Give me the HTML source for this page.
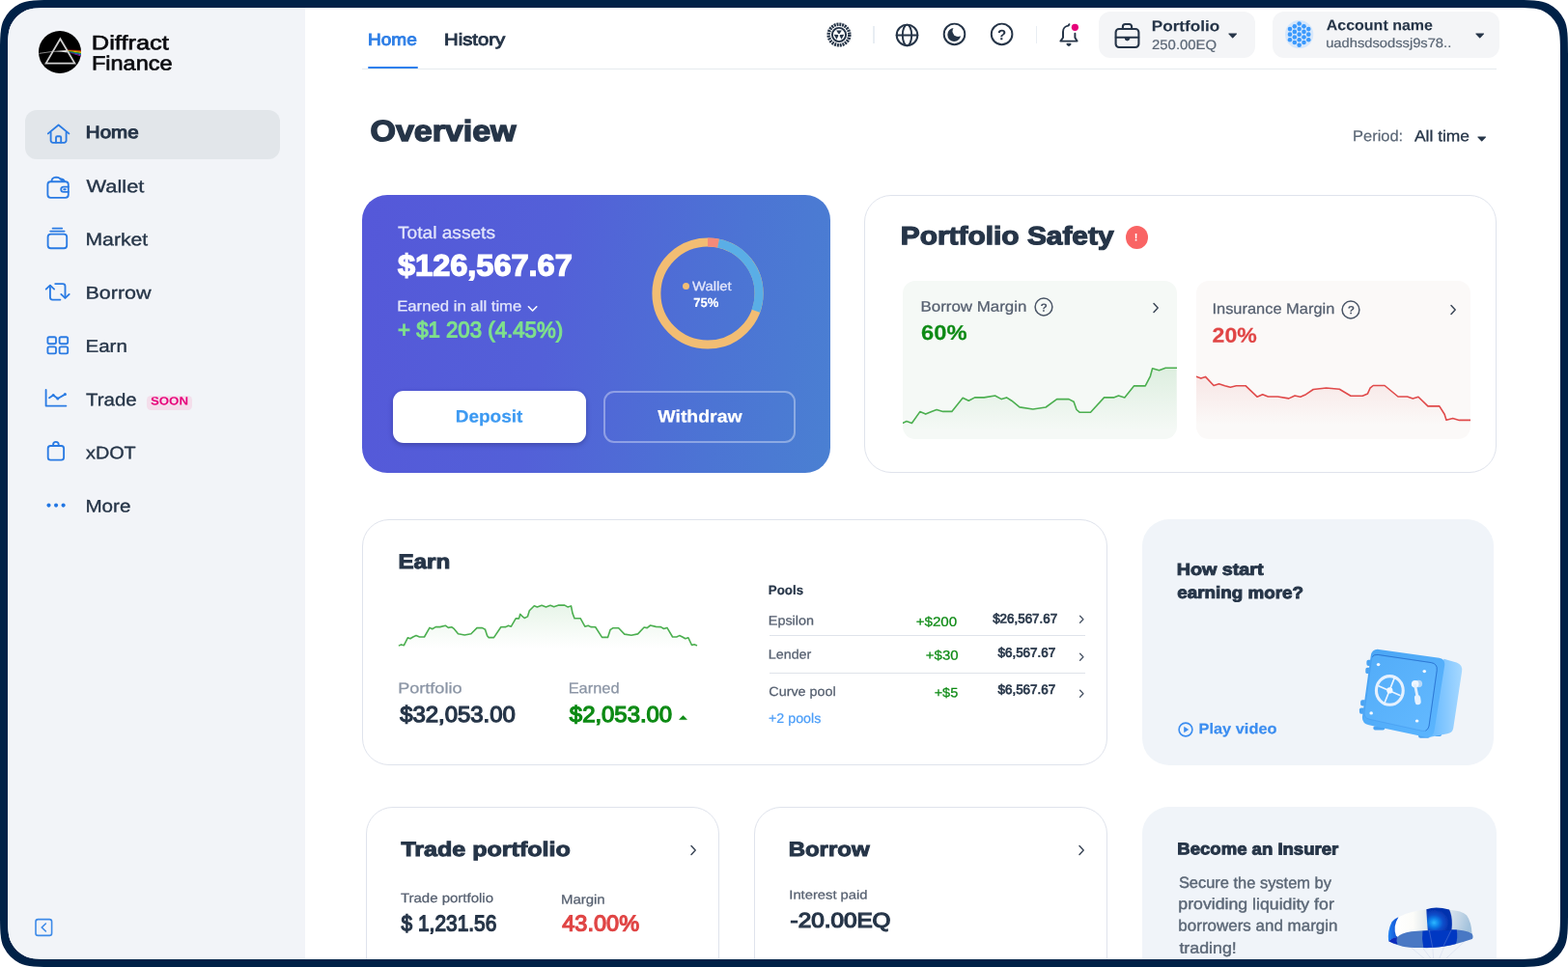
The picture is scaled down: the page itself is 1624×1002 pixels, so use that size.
<!DOCTYPE html>
<html lang="en"><head><meta charset="utf-8"><title>Diffract Finance</title>
<style>
*{box-sizing:border-box;margin:0;padding:0}
html,body{width:1624px;height:1002px;overflow:hidden;background:#fff}
body{font-family:"Liberation Sans",sans-serif;position:relative}
.frame{position:absolute;left:0;top:0;width:1624px;height:1002px;background:#002147;border-radius:34px;clip-path:path('M1564.80 0.00c20.72 0 31.08 0 39.00 4.03a37.00 37.00 0 0 1 16.17 16.17c4.03 7.91 4.03 18.28 4.03 39.00L1624.00 942.80c0 20.72 0 31.08 -4.03 39.00a37.00 37.00 0 0 1 -16.17 16.17c-7.91 4.03 -18.28 4.03 -39.00 4.03L59.20 1002.00c-20.72 0 -31.08 0 -39.00 -4.03a37.00 37.00 0 0 1 -16.17 -16.17c-4.03 -7.91 -4.03 -18.28 -4.03 -39.00L0.00 59.20c0 -20.72 0 -31.08 4.03 -39.00a37.00 37.00 0 0 1 16.17 -16.17c7.91 -4.03 18.28 -4.03 39.00 -4.03Z')}
.screen{position:absolute;left:8px;top:8px;width:1608px;height:986px;background:#fff;border-radius:28px;clip-path:path('M1556.80 0.00c17.92 0 26.88 0 33.73 3.49a32.00 32.00 0 0 1 13.98 13.98c3.49 6.85 3.49 15.81 3.49 33.73L1608.00 934.80c0 17.92 0 26.88 -3.49 33.73a32.00 32.00 0 0 1 -13.98 13.98c-6.85 3.49 -15.81 3.49 -33.73 3.49L51.20 986.00c-17.92 0 -26.88 0 -33.73 -3.49a32.00 32.00 0 0 1 -13.98 -13.98c-3.49 -6.85 -3.49 -15.81 -3.49 -33.73L0.00 51.20c0 -17.92 0 -26.88 3.49 -33.73a32.00 32.00 0 0 1 13.98 -13.98c6.85 -3.49 15.81 -3.49 33.73 -3.49Z');overflow:hidden}
.abs{position:absolute}
.page{position:absolute;left:-8px;top:-8px;width:1624px;height:1002px}
.t{position:absolute;white-space:pre;line-height:1;transform-origin:0 50%;display:block}
.card{position:absolute;border:1px solid #dfe3ec;border-radius:28px;background:#fff}
.info{position:absolute;border-radius:28px;background:#f0f4f9}
svg{position:absolute;overflow:visible}
</style></head>
<body><div class="frame"><div class="screen"><div class="page">
<div class="abs" style="left:0;top:0;width:315.5px;height:1002px;background:#f2f4f8"></div>
<svg style="left:40px;top:32px" width="44" height="44" viewBox="0 0 44 44" >
<defs><clipPath id="lc"><circle cx="22" cy="22" r="22"/></clipPath></defs>
<circle cx="22" cy="22" r="22" fill="#000"/>
<g clip-path="url(#lc)">
<path d="M0.4 23.4 L15 21.3" stroke="#a8a8a8" stroke-width="0.8" fill="none"/><path d="M15.6 20.9 L28.9 20.0 L29.8 22.4 Q22 21.2 15.6 21.5 Z" fill="#e4e4e4"/><path d="M29.6 19.50 L44.5 19.90 L44.5 20.71 L29.79 19.86Z" fill="#b00020"/><path d="M29.6 19.86 L44.5 20.71 L44.5 21.86 L30.06 20.36Z" fill="#ff7a00"/><path d="M29.6 20.36 L44.5 21.86 L44.5 23.01 L30.33 20.87Z" fill="#ffd800"/><path d="M29.6 20.87 L44.5 23.01 L44.5 24.16 L30.60 21.38Z" fill="#2cb34a"/><path d="M29.6 21.38 L44.5 24.16 L44.5 25.32 L30.87 21.89Z" fill="#1f7fe8"/><path d="M29.6 21.89 L44.5 25.32 L44.5 26.70 L31.20 22.50Z" fill="#a0148c"/>
<path d="M22.4 8.2 L37.4 33.6 L7.6 33.6 Z" fill="none" stroke="#cfcfcf" stroke-width="1.8" stroke-linejoin="miter"/>
</g></svg>
<span class="t" style='top:34px;font-size:20.6px;color:#0b0b0f;left:94px;transform:translate(0.81px,0.27px) scaleX(1.2348) rotate(0.03deg);-webkit-text-stroke:0.65px #0b0b0f;'>Diffract</span>
<span class="t" style='top:55px;font-size:20.6px;color:#0b0b0f;left:94px;transform:translate(0.93px,0.47px) scaleX(1.1414) rotate(0.03deg);-webkit-text-stroke:0.65px #0b0b0f;'>Finance</span>
<div class="abs" style="left:26px;top:114px;width:263.5px;height:50.5px;border-radius:12px;background:#e2e6ea"></div>
<span class="t" style='top:129px;font-size:17.8px;color:#263548;left:88px;transform:translate(0.87px,0.10px) scaleX(1.1538) rotate(0.03deg);-webkit-text-stroke:1.0px #263548;'>Home</span>
<span class="t" style='top:184px;font-size:18.1px;color:#263548;left:89px;transform:translate(0.51px,0.12px) scaleX(1.2073) rotate(0.03deg);-webkit-text-stroke:0.35px #263548;'>Wallet</span>
<span class="t" style='top:239px;font-size:18.1px;color:#263548;left:88px;transform:translate(0.45px,0.12px) scaleX(1.1710) rotate(0.03deg);-webkit-text-stroke:0.35px #263548;'>Market</span>
<span class="t" style='top:294px;font-size:18.1px;color:#263548;left:88px;transform:translate(0.43px,0.52px) scaleX(1.1896) rotate(0.03deg);-webkit-text-stroke:0.35px #263548;'>Borrow</span>
<span class="t" style='top:349px;font-size:18.1px;color:#263548;left:88px;transform:translate(0.49px,0.72px) scaleX(1.1341) rotate(0.03deg);-webkit-text-stroke:0.35px #263548;'>Earn</span>
<span class="t" style='top:405px;font-size:18.1px;color:#263548;left:89px;transform:translate(0.08px,0.22px) scaleX(1.1274) rotate(0.03deg);-webkit-text-stroke:0.35px #263548;'>Trade</span>
<span class="t" style='top:460px;font-size:18.1px;color:#263548;left:88px;transform:translate(0.99px,0.22px) scaleX(1.0952) rotate(0.03deg);-webkit-text-stroke:0.35px #263548;'>xDOT</span>
<span class="t" style='top:515px;font-size:18.1px;color:#263548;left:88px;transform:translate(0.39px,0.43px) scaleX(1.1410) rotate(0.03deg);-webkit-text-stroke:0.35px #263548;'>More</span>
<svg style="left:48px;top:127px" width="26" height="24" viewBox="0 0 26 24" ><g fill="none" stroke="#2b7be3" stroke-width="1.85" stroke-linecap="round" stroke-linejoin="round"><path d="M1.8 11.4 L12.6 2.5 L23.4 11.4"/><path d="M4.6 10 V18.6 a2.2 2.2 0 0 0 2.2 2.2 H18.4 a2.2 2.2 0 0 0 2.2 -2.2 V10"/><path d="M10 20.6 V15.6 a1.4 1.4 0 0 1 1.4 -1.4 h2.4 a1.4 1.4 0 0 1 1.4 1.4 V20.6"/></g></svg>
<svg style="left:48px;top:182px" width="26" height="26" viewBox="0 0 26 26" ><g fill="none" stroke="#2b7be3" stroke-width="1.85" stroke-linecap="round" stroke-linejoin="round"><rect x="1.4" y="6.2" width="21.4" height="16.6" rx="3"/><path d="M5.4 6 Q5.6 1.8 10 1.6 Q14.4 1.6 16.6 5.8"/><path d="M14.4 3.6 Q17.6 3.2 19 6"/><path d="M22.8 11.6 H17.8 a2.6 2.6 0 0 0 0 5.2 H22.8"/><path d="M18.2 14.2 h1.6"/></g></svg>
<svg style="left:48px;top:235px" width="26" height="26" viewBox="0 0 26 26" ><g fill="none" stroke="#2b7be3" stroke-width="1.85" stroke-linecap="round" stroke-linejoin="round"><rect x="1.6" y="7.6" width="19.6" height="14.6" rx="3"/><path d="M4.2 4.6 H18.6"/><path d="M6.6 1.6 H16.2"/></g></svg>
<svg style="left:46px;top:291px" width="28" height="24" viewBox="0 0 28 24" ><g fill="none" stroke="#2b7be3" stroke-width="1.85" stroke-linecap="round" stroke-linejoin="round"><path d="M1.7 8.6 L5.9 4.6 L10.1 8.6"/><path d="M5.9 5 V17.1 a2.5 2.5 0 0 0 2.5 2.5 H16.4"/><path d="M17.3 13.9 L21.5 17.9 L25.7 13.9"/><path d="M21.5 17.5 V5.6 a2.5 2.5 0 0 0 -2.5 -2.5 H11.2"/></g></svg>
<svg style="left:48px;top:347px" width="26" height="22" viewBox="0 0 26 22" ><g fill="none" stroke="#2b7be3" stroke-width="1.85" stroke-linecap="round" stroke-linejoin="round"><rect x="1.4" y="2.2" width="8.6" height="7" rx="1.6"/><rect x="13.6" y="2.2" width="8.6" height="7" rx="1.6"/><rect x="1.4" y="12.4" width="8.6" height="7" rx="1.6"/><rect x="13.6" y="12.4" width="8.6" height="7" rx="1.6"/></g></svg>
<svg style="left:46px;top:402px" width="26" height="22" viewBox="0 0 26 22" ><g fill="none" stroke="#2b7be3" stroke-width="1.85" stroke-linecap="round" stroke-linejoin="round"><path d="M1.6 2 V18.6 H22.4"/><path d="M5 10.2 L9.2 7.4 L13.8 11 L21.4 6.6"/></g><g fill="#2b7be3"><circle cx="9.2" cy="7.4" r="1.5"/><circle cx="13.8" cy="11" r="1.5"/><circle cx="21.4" cy="6.6" r="1.5"/></g></svg>
<svg style="left:48px;top:456px" width="22" height="24" viewBox="0 0 22 24" ><g fill="none" stroke="#2b7be3" stroke-width="1.85" stroke-linecap="round" stroke-linejoin="round"><rect x="1.7" y="6" width="16.4" height="14.6" rx="2.6"/><path d="M7.1 5.8 V4.6 a2.8 2.8 0 0 1 5.6 0 V5.8"/></g></svg>
<svg style="left:48px;top:520px" width="22" height="8" viewBox="0 0 22 8" ><g fill="#2276e3"><circle cx="2.5" cy="3.6" r="2.05"/><circle cx="10.05" cy="3.6" r="2.05"/><circle cx="17.6" cy="3.6" r="2.05"/></g></svg>
<div class="abs" style="left:151.8px;top:409.6px;width:47.4px;height:15.6px;border-radius:4.5px;background:#f4deeb"></div>
<span class="t" style='top:409px;font-size:12px;color:#e6007a;font-weight:700;left:155px;transform:translate(0.89px,0.60px) scaleX(1.1060) rotate(0.03deg);'>SOON</span>
<svg style="left:35.3px;top:950.3px" width="22" height="22" viewBox="0 0 22 22" ><g fill="none" stroke="#3d8ae8" stroke-width="1.6" stroke-linecap="round" stroke-linejoin="round"><rect x="2" y="2.6" width="16.6" height="16.8" rx="2.4"/><path d="M12.4 7 L8.2 11 L12.4 15"/></g></svg>
<span class="t" style='top:32px;font-size:17.2px;color:#2f7fe6;left:381px;transform:translate(0.11px,0.75px) scaleX(1.1042) rotate(0.03deg);-webkit-text-stroke:0.9px #2f7fe6;'>Home</span>
<span class="t" style='top:32px;font-size:17.2px;color:#263548;left:460px;transform:translate(0.05px,0.75px) scaleX(1.1795) rotate(0.03deg);-webkit-text-stroke:0.9px #263548;'>History</span>
<div class="abs" style="left:375px;top:71px;width:1175px;height:1px;background:#e6eaee"></div>
<div class="abs" style="left:381px;top:69px;width:52px;height:2.2px;background:#2f80ed;border-radius:1px"></div>
<svg style="left:856.2px;top:23.2px" width="26" height="26" viewBox="0 0 26 26" ><circle cx="13" cy="13" r="10.8" fill="none" stroke="#263548" stroke-width="3.5" stroke-dasharray="2.0 0.8274"/><circle cx="13" cy="13" r="7.1" fill="none" stroke="#263548" stroke-width="1.9"/><polygon points="12.42,11.95 10.18,8.51 15.82,8.51 13.58,11.95" fill="#263548"/><polygon points="14.20,13.03 18.30,12.81 15.48,17.68 13.62,14.02" fill="#263548"/><polygon points="12.38,14.02 10.52,17.68 7.70,12.81 11.80,13.03" fill="#263548"/></svg>
<div class="abs" style="left:904px;top:27px;width:1.6px;height:18px;background:#e8edf3"></div>
<div class="abs" style="left:1072.8px;top:27px;width:1.6px;height:18px;background:#e8edf3"></div>
<svg style="left:927.2px;top:24px" width="25" height="25" viewBox="0 0 25 25" ><g fill="none" stroke="#263548" stroke-width="1.95" stroke-linecap="round" stroke-linejoin="round"><circle cx="12.5" cy="12.4" r="10.8"/><ellipse cx="12.5" cy="12.4" rx="4.7" ry="10.8"/><path d="M1.6 12.4 H23.4"/></g></svg>
<svg style="left:975.7px;top:23.2px" width="25" height="25" viewBox="0 0 25 25" ><circle cx="12.2" cy="13" r="6.9" fill="#263548"/><circle cx="16.2" cy="9.2" r="5.7" fill="#fff"/><g fill="none" stroke="#263548" stroke-width="1.95" stroke-linecap="round" stroke-linejoin="round"><circle cx="12.5" cy="12.4" r="10.8"/></g></svg>
<svg style="left:1024.8px;top:23.1px" width="25" height="25" viewBox="0 0 25 25" ><g fill="none" stroke="#263548" stroke-width="1.95" stroke-linecap="round" stroke-linejoin="round"><circle cx="12.6" cy="12.4" r="10.8"/></g></svg>
<span class="t" style='top:28px;font-size:15px;color:#263548;font-weight:700;left:1032px;transform:translate(0.93px,0.20px) scaleX(1.0039) rotate(0.03deg);'>?</span>
<svg style="left:1095px;top:22px" width="26" height="28" viewBox="0 0 26 28" ><g fill="none" stroke="#263548" stroke-width="1.95" stroke-linecap="round" stroke-linejoin="round"><path d="M12.4 3.2 L11.6 4.6 a6.2 6.2 0 0 0 -5.6 6.2 V17 L3.4 20.6 H20.6 L18.4 17 V12.8"/></g><path d="M9.9 23.3 H14.1 a2.1 2.1 0 0 1 -4.2 0z" fill="#263548" stroke="#263548" stroke-width="1" stroke-linejoin="round"/><circle cx="18.4" cy="6.3" r="3.6" fill="#e6007a"/></svg>
<div class="abs" style="left:1137.6px;top:12.3px;width:162.4px;height:47.6px;border-radius:12px;background:#f4f5f7"></div>
<svg style="left:1153px;top:22px" width="30" height="30" viewBox="0 0 30 30" ><g fill="none" stroke="#263548" stroke-width="2.1" stroke-linecap="round" stroke-linejoin="round"><rect x="2.6" y="8" width="23.8" height="19" rx="3.4"/><path d="M9.9 7.8 V5.6 a2.6 2.6 0 0 1 2.6 -2.6 h4 a2.6 2.6 0 0 1 2.6 2.6 V7.8"/><path d="M2.8 16.8 H26.2"/></g><path d="M12.2 17 h4.6 v0.6 a2.3 2.3 0 0 1 -4.6 0z" fill="#263548" stroke="#263548" stroke-width="1" stroke-linejoin="round"/></svg>
<span class="t" style='top:19px;font-size:15.5px;color:#263548;font-weight:700;left:1192px;transform:translate(0.78px,0.15px) scaleX(1.1053) rotate(0.03deg);-webkit-text-stroke:0.1px #263548;'>Portfolio</span>
<span class="t" style='top:39px;font-size:14px;color:#5b6776;left:1193px;transform:translate(0.01px,0.10px) scaleX(1.0648) rotate(0.03deg);-webkit-text-stroke:0.2px #5b6776;'>250.00EQ</span>
<svg style="left:1271.5px;top:33.7px" width="10" height="6" viewBox="0 0 10 6"><path d="M0.8 0.4 H8.6 a0.5 0.5 0 0 1 0.4 0.8 L5.2 5.2 a0.7 0.7 0 0 1 -1 0 L0.4 1.2 a0.5 0.5 0 0 1 0.4 -0.8z" fill="#263548"/></svg>
<div class="abs" style="left:1317.8px;top:12.3px;width:234.8px;height:47.6px;border-radius:12px;background:#f4f5f7"></div>
<svg style="left:1331.3px;top:21.4px" width="29.3" height="29.3" viewBox="0 0 29.3 29.3" ><circle cx="14.65" cy="14.65" r="14.65" fill="#d6e7fb"/><circle cx="4.99" cy="9.10" r="2.3" fill="#3b99fc"/><circle cx="4.99" cy="14.65" r="2.3" fill="#3b99fc"/><circle cx="4.99" cy="20.20" r="2.3" fill="#3b99fc"/><circle cx="9.82" cy="6.33" r="2.3" fill="#3b99fc"/><circle cx="9.82" cy="11.88" r="2.3" fill="#3b99fc"/><circle cx="9.82" cy="17.43" r="2.3" fill="#3b99fc"/><circle cx="9.82" cy="22.98" r="2.3" fill="#3b99fc"/><circle cx="14.65" cy="3.55" r="2.3" fill="#3b99fc"/><circle cx="14.65" cy="9.10" r="2.3" fill="#3b99fc"/><circle cx="14.65" cy="14.65" r="2.3" fill="#3b99fc"/><circle cx="14.65" cy="20.20" r="2.3" fill="#3b99fc"/><circle cx="14.65" cy="25.75" r="2.3" fill="#3b99fc"/><circle cx="19.48" cy="6.33" r="2.3" fill="#3b99fc"/><circle cx="19.48" cy="11.88" r="2.3" fill="#3b99fc"/><circle cx="19.48" cy="17.43" r="2.3" fill="#3b99fc"/><circle cx="19.48" cy="22.98" r="2.3" fill="#3b99fc"/><circle cx="24.31" cy="9.10" r="2.3" fill="#3b99fc"/><circle cx="24.31" cy="14.65" r="2.3" fill="#3b99fc"/><circle cx="24.31" cy="20.20" r="2.3" fill="#3b99fc"/></svg>
<span class="t" style='top:18px;font-size:15.4px;color:#263548;font-weight:700;left:1373px;transform:translate(0.80px,0.15px) scaleX(1.0380) rotate(0.03deg);-webkit-text-stroke:0.1px #263548;'>Account name</span>
<span class="t" style='top:38px;font-size:13.5px;color:#5b6776;left:1373px;transform:translate(0.19px,0.00px) scaleX(1.0897) rotate(0.03deg);-webkit-text-stroke:0.2px #5b6776;'>uadhsdsodssj9s78..</span>
<svg style="left:1528.1px;top:33.7px" width="10" height="6" viewBox="0 0 10 6"><path d="M0.8 0.4 H8.6 a0.5 0.5 0 0 1 0.4 0.8 L5.2 5.2 a0.7 0.7 0 0 1 -1 0 L0.4 1.2 a0.5 0.5 0 0 1 0.4 -0.8z" fill="#263548"/></svg>
<span class="t" style='top:119px;font-size:30.4px;color:#263548;font-weight:700;left:383px;transform:translate(0.52px,0.90px) scaleX(1.1168) rotate(0.03deg);-webkit-text-stroke:1.4px #263548;'>Overview</span>
<span class="t" style='top:133px;font-size:16px;color:#5b6776;left:1401px;transform:translate(0.02px,0.20px) scaleX(1.0290) rotate(0.03deg);-webkit-text-stroke:0.2px #5b6776;'>Period:</span>
<span class="t" style='top:133px;font-size:16px;color:#263548;left:1464px;transform:translate(0.96px,0.15px) scaleX(1.0882) rotate(0.03deg);-webkit-text-stroke:0.3px #263548;'>All time</span>
<svg style="left:1529.8px;top:140.6px" width="10" height="6" viewBox="0 0 10 6"><path d="M0.8 0.4 H8.6 a0.5 0.5 0 0 1 0.4 0.8 L5.2 5.2 a0.7 0.7 0 0 1 -1 0 L0.4 1.2 a0.5 0.5 0 0 1 0.4 -0.8z" fill="#263548"/></svg>
<div class="abs" style="left:375.4px;top:202px;width:484.6px;height:288px;border-radius:26px;background:linear-gradient(100deg,#5558d9 0%,#5360d8 40%,#4c74d4 75%,#4a80d2 100%)"></div>
<span class="t" style='top:233px;font-size:17.8px;color:#e3e6fb;left:412px;transform:translate(0.04px,0.07px) scaleX(1.0749) rotate(0.03deg);-webkit-text-stroke:0.25px #e3e6fb;'>Total assets</span>
<span class="t" style='top:259px;font-size:31px;color:#ffffff;font-weight:700;left:411px;transform:translate(0.98px,0.45px) scaleX(1.0485) rotate(0.03deg);-webkit-text-stroke:1.3px #ffffff;'>$126,567.67</span>
<span class="t" style='top:309px;font-size:15.2px;color:#e3e6fb;left:411px;transform:translate(0.13px,0.18px) scaleX(1.1011) rotate(0.03deg);-webkit-text-stroke:0.25px #e3e6fb;'>Earned in all time</span>
<svg style="left:546.2px;top:315.8px" width="12" height="8" viewBox="0 0 12 8" ><path d="M1.4 1.8 L5.6 6 L9.8 1.8" fill="none" stroke="#fff" stroke-width="1.6" stroke-linecap="round" stroke-linejoin="round"/></svg>
<span class="t" style='top:330px;font-size:23.2px;color:#7fe08c;left:411px;transform:translate(0.99px,0.55px) scaleX(0.9580) rotate(0.03deg);-webkit-text-stroke:1.1px #7fe08c;'>+ $1 203 (4.45%)</span>
<svg style="left:673px;top:243.7px" width="120" height="120" viewBox="0 0 120 120" ><circle cx="60" cy="60" r="53.1" fill="none" stroke="#f2bd73" stroke-width="9" stroke-dasharray="333.64 0.00" stroke-dashoffset="0.00" transform="rotate(-90 60 60)"/><circle cx="60" cy="60" r="53.1" fill="none" stroke="#f58a7a" stroke-width="9" stroke-dasharray="11.12 322.52" stroke-dashoffset="0.00" transform="rotate(-90 60 60)"/><circle cx="60" cy="60" r="53.1" fill="none" stroke="#5aaee6" stroke-width="9" stroke-dasharray="90.82 242.81" stroke-dashoffset="-11.12" transform="rotate(-90 60 60)"/></svg>
<div class="abs" style="left:706.8px;top:292.5px;width:7px;height:7px;border-radius:50%;background:#f2bd73"></div>
<span class="t" style='top:290px;font-size:13.4px;color:#e3e6fb;left:716px;transform:translate(0.94px,0.07px) scaleX(1.1073) rotate(0.03deg);-webkit-text-stroke:0.25px #e3e6fb;'>Wallet</span>
<span class="t" style='top:307px;font-size:13.2px;color:#ffffff;font-weight:700;left:718px;transform:translate(0.29px,0.00px) scaleX(0.9839) rotate(0.03deg);-webkit-text-stroke:0.2px #ffffff;'>75%</span>
<div class="abs" style="left:407px;top:405.3px;width:199.6px;height:53.4px;border-radius:11px;background:#fff;box-shadow:0 2px 5px rgba(30,30,90,.35)"></div>
<span class="t" style='top:422px;font-size:18px;color:#3d9af2;font-weight:700;left:471px;transform:translate(0.72px,0.50px) scaleX(1.0555) rotate(0.03deg);-webkit-text-stroke:0.2px #3d9af2;'>Deposit</span>
<div class="abs" style="left:624.8px;top:405.3px;width:199.6px;height:53.4px;border-radius:11px;border:2px solid rgba(255,255,255,.36)"></div>
<span class="t" style='top:422px;font-size:18px;color:#ffffff;font-weight:700;left:681px;transform:translate(0.31px,0.50px) scaleX(1.0802) rotate(0.03deg);-webkit-text-stroke:0.2px #ffffff;'>Withdraw</span>
<div class="card" style="left:895px;top:202px;width:654.6px;height:288px"></div>
<span class="t" style='top:231px;font-size:26.4px;color:#263548;font-weight:700;left:932px;transform:translate(0.81px,0.20px) scaleX(1.1319) rotate(0.03deg);-webkit-text-stroke:1.2px #263548;'>Portfolio Safety</span>
<div class="abs" style="left:1165.5px;top:233.8px;width:23px;height:24.2px;border-radius:50%;background:#f96464"></div>
<span class="t" style='top:240px;font-size:11px;color:#fff;font-weight:700;left:1174px;transform:translate(0.67px,0.40px) scaleX(1.0000) rotate(0.03deg);'>!</span>
<div class="abs" style="left:935.3px;top:290.8px;width:284px;height:163.8px;border-radius:13px;background:#f5f9f6;overflow:hidden"><svg style="left:0px;top:0px" width="284.3" height="162.8" viewBox="0 0 284.3 162.8" ><defs><linearGradient id="gg" x1="0" y1="90.2" x2="0" y2="155.2" gradientUnits="userSpaceOnUse"><stop offset="0" stop-color="#3fa84a" stop-opacity="0.13"/><stop offset="1" stop-color="#3fa84a" stop-opacity="0"/></linearGradient></defs><path d="M-0.4,155.2 L-0.4,147.5 L4.0,145.6 L9.4,147.5 L17.8,135.6 L23.7,138.1 L29.8,135.4 L35.1,133.5 L41.6,135.4 L50.8,135.4 L62.2,121.3 L68.3,124.2 L74.6,120.9 L84.2,120.9 L95.6,119.0 L102.3,122.6 L107.5,120.9 L112.8,124.2 L121.0,130.9 L134.8,133.0 L148.1,131.0 L159.6,122.6 L172.0,122.6 L177.1,125.3 L180.0,133.5 L183.1,136.2 L194.5,136.2 L208.6,120.9 L218.4,120.9 L223.5,119.0 L229.8,120.9 L239.4,108.9 L251.2,108.9 L256.4,98.8 L258.6,90.8 L265.5,92.7 L272.2,90.2 L283.6,90.2 L283.6,155.2 Z" fill="url(#gg)"/><polyline points="-0.4,147.5 4.0,145.6 9.4,147.5 17.8,135.6 23.7,138.1 29.8,135.4 35.1,133.5 41.6,135.4 50.8,135.4 62.2,121.3 68.3,124.2 74.6,120.9 84.2,120.9 95.6,119.0 102.3,122.6 107.5,120.9 112.8,124.2 121.0,130.9 134.8,133.0 148.1,131.0 159.6,122.6 172.0,122.6 177.1,125.3 180.0,133.5 183.1,136.2 194.5,136.2 208.6,120.9 218.4,120.9 223.5,119.0 229.8,120.9 239.4,108.9 251.2,108.9 256.4,98.8 258.6,90.8 265.5,92.7 272.2,90.2 283.6,90.2" fill="none" stroke="#4caf50" stroke-width="1.6" stroke-linejoin="round" stroke-linecap="round"/></svg></div>
<span class="t" style='top:309px;font-size:15.4px;color:#566070;left:953px;transform:translate(0.52px,0.68px) scaleX(1.0975) rotate(0.03deg);-webkit-text-stroke:0.25px #566070;'>Borrow Margin</span>
<svg style="left:1071.1px;top:308.3px" width="20" height="20" viewBox="0 0 20 20" ><circle cx="10" cy="10" r="8.9" fill="none" stroke="#4a5566" stroke-width="1.5"/></svg><span class="t" style='top:312px;font-size:12px;color:#4a5566;font-weight:700;left:1077px;transform:translate(0.62px,0.70px) scaleX(1.0000) rotate(0.03deg);'>?</span>
<svg style="left:1193.0px;top:312.8px" width="8.0" height="12.0" viewBox="0 0 8 12" ><path d="M2 1.6 L6.2 6 L2 10.4" fill="none" stroke="#3c4858" stroke-width="1.50" stroke-linecap="round" stroke-linejoin="round"/></svg>
<span class="t" style='top:334px;font-size:21.6px;color:#0d8a14;font-weight:700;left:954px;transform:translate(0.07px,0.10px) scaleX(1.0977) rotate(0.03deg);-webkit-text-stroke:0.2px #0d8a14;'>60%</span>
<div class="abs" style="left:1238.5px;top:290.8px;width:284.3px;height:163.8px;border-radius:13px;background:#fbf9f8;overflow:hidden"><svg style="left:0px;top:0px" width="284.3" height="162.8" viewBox="0 0 284.3 162.8" ><defs><linearGradient id="gr" x1="0" y1="99.2" x2="0" y2="149.2" gradientUnits="userSpaceOnUse"><stop offset="0" stop-color="#d84040" stop-opacity="0.1"/><stop offset="1" stop-color="#d84040" stop-opacity="0"/></linearGradient></defs><path d="M-0.0,149.2 L-0.0,99.2 L4.8,100.9 L9.5,99.4 L18.1,108.5 L23.5,106.8 L29.6,108.7 L35.3,110.2 L41.4,108.7 L51.0,108.7 L63.0,120.2 L68.7,117.7 L74.4,120.0 L84.4,120.0 L95.8,121.9 L102.1,119.0 L107.8,120.2 L113.6,117.7 L121.2,112.5 L134.6,111.0 L148.3,112.3 L160.0,119.2 L172.2,119.2 L177.5,116.9 L180.0,111.2 L183.2,108.5 L195.1,108.5 L209.0,120.0 L218.6,120.0 L224.3,121.9 L230.0,120.2 L239.9,129.9 L251.8,129.9 L257.1,138.3 L259.0,144.2 L265.7,142.5 L272.4,144.4 L284.0,144.4 L284.0,149.2 Z" fill="url(#gr)"/><polyline points="-0.0,99.2 4.8,100.9 9.5,99.4 18.1,108.5 23.5,106.8 29.6,108.7 35.3,110.2 41.4,108.7 51.0,108.7 63.0,120.2 68.7,117.7 74.4,120.0 84.4,120.0 95.8,121.9 102.1,119.0 107.8,120.2 113.6,117.7 121.2,112.5 134.6,111.0 148.3,112.3 160.0,119.2 172.2,119.2 177.5,116.9 180.0,111.2 183.2,108.5 195.1,108.5 209.0,120.0 218.6,120.0 224.3,121.9 230.0,120.2 239.9,129.9 251.8,129.9 257.1,138.3 259.0,144.2 265.7,142.5 272.4,144.4 284.0,144.4" fill="none" stroke="#e04a4a" stroke-width="1.6" stroke-linejoin="round" stroke-linecap="round"/></svg></div>
<span class="t" style='top:311px;font-size:15.4px;color:#566070;left:1255px;transform:translate(0.45px,0.88px) scaleX(1.0669) rotate(0.03deg);-webkit-text-stroke:0.25px #566070;'>Insurance Margin</span>
<svg style="left:1389.2px;top:310.8px" width="20" height="20" viewBox="0 0 20 20" ><circle cx="10" cy="10" r="8.9" fill="none" stroke="#4a5566" stroke-width="1.5"/></svg><span class="t" style='top:315px;font-size:12px;color:#4a5566;font-weight:700;left:1395px;transform:translate(0.73px,0.20px) scaleX(1.0000) rotate(0.03deg);'>?</span>
<svg style="left:1501.0px;top:315.0px" width="8.0" height="12.0" viewBox="0 0 8 12" ><path d="M2 1.6 L6.2 6 L2 10.4" fill="none" stroke="#3c4858" stroke-width="1.50" stroke-linecap="round" stroke-linejoin="round"/></svg>
<span class="t" style='top:336px;font-size:21.6px;color:#e04545;font-weight:700;left:1255px;transform:translate(0.59px,0.80px) scaleX(1.0671) rotate(0.03deg);-webkit-text-stroke:0.2px #e04545;'>20%</span>
<div class="card" style="left:375.2px;top:538.4px;width:771.4px;height:254.6px"></div>
<span class="t" style='top:570px;font-size:21px;color:#263548;font-weight:700;left:412px;transform:translate(0.46px,0.90px) scaleX(1.1508) rotate(0.03deg);-webkit-text-stroke:1.0px #263548;'>Earn</span>
<svg style="left:405px;top:610px" width="330" height="80" viewBox="0 0 330 80" ><defs><linearGradient id="ge" x1="0" y1="17.1" x2="0" y2="62" gradientUnits="userSpaceOnUse"><stop offset="0" stop-color="#3fa84a" stop-opacity="0.12"/><stop offset="1" stop-color="#3fa84a" stop-opacity="0"/></linearGradient></defs><path d="M8.5,62 L8.5,58.9 L10.6,57.9 L13.4,58.7 L17.3,50.8 L19.9,51.8 L22.8,50.0 L26.0,48.6 L29.5,50.0 L34.5,50.0 L40.0,40.4 L42.7,41.7 L46.3,39.6 L50.8,39.6 L56.3,38.2 L59.3,40.4 L63.0,39.8 L65.4,41.7 L69.5,46.7 L76.2,48.0 L82.9,46.7 L89.0,40.6 L94.5,40.6 L97.5,42.3 L99.6,48.8 L101.2,50.6 L106.5,50.6 L113.8,39.8 L118.9,39.6 L121.5,38.2 L124.4,39.2 L129.2,30.9 L132.5,30.9 L133.7,26.4 L135.7,28.4 L138.2,30.5 L141.4,28.9 L143.3,22.8 L148.3,17.7 L151.4,18.9 L156.1,17.3 L160.5,18.9 L165.0,17.3 L168.7,18.7 L173.7,17.1 L179.8,17.1 L182.9,18.9 L186.5,17.9 L188.0,25.4 L190.0,30.7 L196.1,30.7 L200.8,39.2 L204.2,38.2 L206.9,39.6 L211.7,39.8 L218.5,50.4 L224.5,50.4 L227.0,42.7 L229.6,40.8 L235.7,40.8 L241.8,47.1 L248.9,48.2 L255.6,46.9 L262.1,40.0 L265.2,40.6 L268.6,38.0 L274.3,39.4 L279.4,39.6 L282.5,41.5 L285.9,40.4 L291.6,50.0 L295.7,50.0 L298.7,48.6 L301.8,50.0 L304.8,51.8 L307.9,50.8 L311.5,58.5 L314.0,57.7 L316.4,58.7 L316.4,62 Z" fill="url(#ge)"/><polyline points="8.5,58.9 10.6,57.9 13.4,58.7 17.3,50.8 19.9,51.8 22.8,50.0 26.0,48.6 29.5,50.0 34.5,50.0 40.0,40.4 42.7,41.7 46.3,39.6 50.8,39.6 56.3,38.2 59.3,40.4 63.0,39.8 65.4,41.7 69.5,46.7 76.2,48.0 82.9,46.7 89.0,40.6 94.5,40.6 97.5,42.3 99.6,48.8 101.2,50.6 106.5,50.6 113.8,39.8 118.9,39.6 121.5,38.2 124.4,39.2 129.2,30.9 132.5,30.9 133.7,26.4 135.7,28.4 138.2,30.5 141.4,28.9 143.3,22.8 148.3,17.7 151.4,18.9 156.1,17.3 160.5,18.9 165.0,17.3 168.7,18.7 173.7,17.1 179.8,17.1 182.9,18.9 186.5,17.9 188.0,25.4 190.0,30.7 196.1,30.7 200.8,39.2 204.2,38.2 206.9,39.6 211.7,39.8 218.5,50.4 224.5,50.4 227.0,42.7 229.6,40.8 235.7,40.8 241.8,47.1 248.9,48.2 255.6,46.9 262.1,40.0 265.2,40.6 268.6,38.0 274.3,39.4 279.4,39.6 282.5,41.5 285.9,40.4 291.6,50.0 295.7,50.0 298.7,48.6 301.8,50.0 304.8,51.8 307.9,50.8 311.5,58.5 314.0,57.7 316.4,58.7" fill="none" stroke="#4caf50" stroke-width="1.6" stroke-linejoin="round" stroke-linecap="round"/></svg>
<span class="t" style='top:705px;font-size:15.5px;color:#8b95a5;left:412px;transform:translate(0.23px,0.17px) scaleX(1.1651) rotate(0.03deg);-webkit-text-stroke:0.25px #8b95a5;'>Portfolio</span>
<span class="t" style='top:728px;font-size:23px;color:#263548;left:414px;transform:translate(0.15px,0.98px) scaleX(1.0390) rotate(0.03deg);-webkit-text-stroke:1.25px #263548;'>$32,053.00</span>
<span class="t" style='top:705px;font-size:15.5px;color:#8b95a5;left:588px;transform:translate(0.65px,0.17px) scaleX(1.0592) rotate(0.03deg);-webkit-text-stroke:0.25px #8b95a5;'>Earned</span>
<span class="t" style='top:728px;font-size:23px;color:#0d8a14;left:589px;transform:translate(0.85px,0.98px) scaleX(1.0389) rotate(0.03deg);-webkit-text-stroke:1.25px #0d8a14;'>$2,053.00</span>
<svg style="left:703.4px;top:740.8px" width="9" height="5" viewBox="0 0 9 5" ><path d="M0.6 4.6 L4.5 0.6 L8.4 4.6 Z" fill="#0d8a14" stroke="#0d8a14" stroke-width="0.6" stroke-linejoin="round"/></svg>
<span class="t" style='top:604px;font-size:13.5px;color:#263548;font-weight:700;left:795px;transform:translate(0.87px,0.90px) scaleX(0.9841) rotate(0.03deg);-webkit-text-stroke:0.2px #263548;'>Pools</span>
<span class="t" style='top:636px;font-size:13.4px;color:#566070;left:795px;transform:translate(0.81px,0.58px) scaleX(1.0755) rotate(0.03deg);-webkit-text-stroke:0.25px #566070;'>Epsilon</span>
<span class="t" style='top:637px;font-size:13.6px;color:#0d8a14;left:948px;transform:translate(0.63px,0.68px) scaleX(1.1155) rotate(0.03deg);-webkit-text-stroke:0.25px #0d8a14;'>+$200</span>
<span class="t" style='top:634px;font-size:13.6px;color:#263548;left:1028px;transform:translate(0.14px,0.45px) scaleX(0.9851) rotate(0.03deg);-webkit-text-stroke:0.7px #263548;'>$26,567.67</span>
<svg style="left:1116.8px;top:637.4000000000001px" width="6.4" height="9.600000000000001" viewBox="0 0 8 12" ><path d="M2 1.6 L6.2 6 L2 10.4" fill="none" stroke="#4a5566" stroke-width="1.62" stroke-linecap="round" stroke-linejoin="round"/></svg>
<span class="t" style='top:671px;font-size:13.4px;color:#566070;left:795px;transform:translate(0.82px,0.48px) scaleX(1.0670) rotate(0.03deg);-webkit-text-stroke:0.25px #566070;'>Lender</span>
<span class="t" style='top:672px;font-size:13.6px;color:#0d8a14;left:958px;transform:translate(0.84px,0.58px) scaleX(1.1001) rotate(0.03deg);-webkit-text-stroke:0.25px #0d8a14;'>+$30</span>
<span class="t" style='top:669px;font-size:13.6px;color:#263548;left:1033px;transform:translate(0.45px,0.75px) scaleX(0.9893) rotate(0.03deg);-webkit-text-stroke:0.7px #263548;'>$6,567.67</span>
<svg style="left:1116.8px;top:675.5px" width="6.4" height="9.600000000000001" viewBox="0 0 8 12" ><path d="M2 1.6 L6.2 6 L2 10.4" fill="none" stroke="#4a5566" stroke-width="1.62" stroke-linecap="round" stroke-linejoin="round"/></svg>
<span class="t" style='top:710px;font-size:13.4px;color:#566070;left:796px;transform:translate(0.26px,0.08px) scaleX(1.0733) rotate(0.03deg);-webkit-text-stroke:0.25px #566070;'>Curve pool</span>
<span class="t" style='top:711px;font-size:13.6px;color:#0d8a14;left:967px;transform:translate(0.65px,0.18px) scaleX(1.0664) rotate(0.03deg);-webkit-text-stroke:0.25px #0d8a14;'>+$5</span>
<span class="t" style='top:708px;font-size:13.6px;color:#263548;left:1033px;transform:translate(0.45px,0.05px) scaleX(0.9893) rotate(0.03deg);-webkit-text-stroke:0.7px #263548;'>$6,567.67</span>
<svg style="left:1116.8px;top:713.9000000000001px" width="6.4" height="9.600000000000001" viewBox="0 0 8 12" ><path d="M2 1.6 L6.2 6 L2 10.4" fill="none" stroke="#4a5566" stroke-width="1.62" stroke-linecap="round" stroke-linejoin="round"/></svg>
<div class="abs" style="left:796.6px;top:657.8px;width:327.6px;height:1px;background:#dfe3ea"></div>
<div class="abs" style="left:796.6px;top:697.4px;width:327.6px;height:1px;background:#dfe3ea"></div>
<span class="t" style='top:736px;font-size:14px;color:#4a9df8;left:796px;transform:translate(0.03px,0.90px) scaleX(1.0186) rotate(0.03deg);-webkit-text-stroke:0.2px #4a9df8;'>+2 pools</span>
<div class="info" style="left:1183.4px;top:538.4px;width:364px;height:254.6px"></div>
<span class="t" style='top:581px;font-size:17.2px;color:#263548;font-weight:700;left:1218px;transform:translate(0.68px,0.75px) scaleX(1.1471) rotate(0.03deg);-webkit-text-stroke:0.9px #263548;'>How start</span>
<span class="t" style='top:605px;font-size:17.2px;color:#263548;font-weight:700;left:1219px;transform:translate(0.30px,0.85px) scaleX(1.0941) rotate(0.03deg);-webkit-text-stroke:0.9px #263548;'>earning more?</span>
<svg style="left:1220px;top:748.2px" width="16" height="16" viewBox="0 0 16 16" ><circle cx="8" cy="8" r="6.9" fill="none" stroke="#3b8df0" stroke-width="1.6"/><path d="M6.6 5.4 L10.6 8 L6.6 10.6Z" fill="#3b8df0" stroke="#3b8df0" stroke-width="0.8" stroke-linejoin="round"/></svg>
<span class="t" style='top:747px;font-size:15.4px;color:#3b8df0;font-weight:700;left:1241px;transform:translate(0.58px,0.20px) scaleX(1.0626) rotate(0.03deg);-webkit-text-stroke:0.2px #3b8df0;'>Play video</span>
<svg style="left:1390px;top:660px" width="140" height="120" viewBox="0 0 1169 1002">
<defs>
<linearGradient id="sf" x1="0" y1="0" x2="1" y2="1"><stop offset="0" stop-color="#4aa5f4"/><stop offset="1" stop-color="#5cb6ff"/></linearGradient>
<linearGradient id="ss" x1="0" y1="0" x2="1" y2="0"><stop offset="0" stop-color="#62b8ff"/><stop offset="0.6" stop-color="#8ccbff"/><stop offset="1" stop-color="#a6d8ff"/></linearGradient>
<linearGradient id="sd" x1="0" y1="0" x2="1" y2="1"><stop offset="0" stop-color="#52acf8"/><stop offset="1" stop-color="#63b9ff"/></linearGradient>
</defs>
<g fill="#4aa3f2"><rect x="212" y="198" width="60" height="52" rx="16"/><rect x="203" y="266" width="60" height="52" rx="16"/><rect x="160" y="545" width="60" height="52" rx="16"/><rect x="150" y="613" width="60" height="52" rx="16"/>
<rect x="270" y="770" width="100" height="36" rx="16"/><rect x="660" y="835" width="100" height="40" rx="18"/><rect x="800" y="830" width="60" height="30" rx="14"/></g>
<path d="M880 190 L990 222 Q1045 240 1036 300 L962 790 Q954 832 910 838 L750 868 Z" fill="url(#ss)"/>
<path d="M318 108 L840 182 Q895 192 886 250 L798 810 Q786 875 722 866 L232 762 Q166 745 176 680 L248 165 Q258 102 318 108 Z" fill="url(#sf)"/>
<path d="M310 154 L770 222 Q828 232 820 290 L752 770 Q742 822 690 812 L236 712 Q186 700 192 650 L254 196 Q262 148 310 154 Z" fill="url(#sd)" stroke="#3f93ea" stroke-width="4"/>
<path d="M262 170 Q275 150 310 154 L770 222 Q828 232 820 290 L752 770 Q746 800 725 810" fill="none" stroke="#2268c8" stroke-width="6" stroke-linecap="round"/>
<g fill="none" stroke="#e6f1fe" stroke-width="26"><ellipse cx="412" cy="463" rx="116" ry="124"/></g>
<g stroke="#eaf4ff" stroke-width="14" stroke-linecap="round"><path d="M320 425 L500 505"/><path d="M455 350 L368 570"/></g>
<circle cx="412" cy="463" r="26" fill="#f4f9ff"/>
<circle cx="662" cy="405" r="32" fill="#b9d9f8"/><circle cx="632" cy="408" r="32" fill="#f0f7ff"/>
<path d="M632 420 L652 520" stroke="#e4f0fd" stroke-width="24" stroke-linecap="round"/>
<rect x="628" y="500" width="52" height="86" rx="26" fill="#e6f2ff" transform="rotate(-8 654 543)"/>
<g fill="#f4f9ff"><ellipse cx="314" cy="239" rx="15" ry="13"/><ellipse cx="712" cy="297" rx="15" ry="13"/><ellipse cx="252" cy="659" rx="15" ry="13"/><ellipse cx="648" cy="727" rx="15" ry="13"/></g>
</svg>
<div class="card" style="left:378.6px;top:836px;width:366.4px;height:200px"></div>
<span class="t" style='top:868px;font-size:21px;color:#263548;font-weight:700;left:415px;transform:translate(0.40px,0.90px) scaleX(1.1934) rotate(0.03deg);-webkit-text-stroke:1.0px #263548;'>Trade portfolio</span>
<svg style="left:714.0px;top:875.0px" width="8.0" height="12.0" viewBox="0 0 8 12" ><path d="M2 1.6 L6.2 6 L2 10.4" fill="none" stroke="#3c4858" stroke-width="1.50" stroke-linecap="round" stroke-linejoin="round"/></svg>
<span class="t" style='top:923px;font-size:13.4px;color:#566070;left:414px;transform:translate(0.91px,0.88px) scaleX(1.1194) rotate(0.03deg);-webkit-text-stroke:0.25px #566070;'>Trade portfolio</span>
<span class="t" style='top:945px;font-size:23px;color:#263548;left:415px;transform:translate(0.57px,0.38px) scaleX(0.9080) rotate(0.03deg);-webkit-text-stroke:1.25px #263548;'>$ 1,231.56</span>
<span class="t" style='top:925px;font-size:13.4px;color:#566070;left:580px;transform:translate(0.97px,0.48px) scaleX(1.1165) rotate(0.03deg);-webkit-text-stroke:0.25px #566070;'>Margin</span>
<span class="t" style='top:945px;font-size:23px;color:#e04545;left:582px;transform:translate(0.27px,0.38px) scaleX(1.0229) rotate(0.03deg);-webkit-text-stroke:1.25px #e04545;'>43.00%</span>
<div class="card" style="left:781.4px;top:836px;width:365.6px;height:200px"></div>
<span class="t" style='top:868px;font-size:21px;color:#263548;font-weight:700;left:816px;transform:translate(0.67px,0.90px) scaleX(1.1412) rotate(0.03deg);-webkit-text-stroke:1.0px #263548;'>Borrow</span>
<svg style="left:1116.0px;top:875.0px" width="8.0" height="12.0" viewBox="0 0 8 12" ><path d="M2 1.6 L6.2 6 L2 10.4" fill="none" stroke="#3c4858" stroke-width="1.50" stroke-linecap="round" stroke-linejoin="round"/></svg>
<span class="t" style='top:921px;font-size:12.9px;color:#566070;left:817px;transform:translate(0.29px,0.58px) scaleX(1.1451) rotate(0.03deg);-webkit-text-stroke:0.25px #566070;'>Interest paid</span>
<span class="t" style='top:942px;font-size:21.2px;color:#263548;left:818px;transform:translate(0.56px,0.77px) scaleX(1.1459) rotate(0.03deg);-webkit-text-stroke:1.25px #263548;'>-20.00EQ</span>
<div class="info" style="left:1183.4px;top:835.8px;width:366.6px;height:200px"></div>
<span class="t" style='top:871px;font-size:17.2px;color:#263548;font-weight:700;left:1219px;transform:translate(0.33px,0.35px) scaleX(1.0787) rotate(0.03deg);-webkit-text-stroke:0.9px #263548;'>Become an Insurer</span>
<span class="t" style='top:906px;font-size:16.4px;color:#5b6776;left:1220px;transform:translate(0.89px,0.10px) scaleX(1.0027) rotate(0.03deg);-webkit-text-stroke:0.4px #5b6776;'>Secure the system by</span>
<span class="t" style='top:928px;font-size:16.4px;color:#5b6776;left:1220px;transform:translate(0.31px,0.10px) scaleX(1.0807) rotate(0.03deg);-webkit-text-stroke:0.4px #5b6776;'>providing liquidity for</span>
<span class="t" style='top:950px;font-size:16.4px;color:#5b6776;left:1220px;transform:translate(0.35px,0.40px) scaleX(1.0356) rotate(0.03deg);-webkit-text-stroke:0.4px #5b6776;'>borrowers and margin</span>
<span class="t" style='top:973px;font-size:16.4px;color:#5b6776;left:1221px;transform:translate(0.42px,0.80px) scaleX(1.0854) rotate(0.03deg);-webkit-text-stroke:0.4px #5b6776;'>trading!</span>
<svg style="left:1420px;top:920px" width="140" height="82" viewBox="0 0 1624 951">
<defs>
<linearGradient id="pw" x1="0" y1="0" x2="1" y2="0"><stop offset="0" stop-color="#ffffff"/><stop offset="0.55" stop-color="#fcfcf9"/><stop offset="1" stop-color="#dde5e9"/></linearGradient>
<linearGradient id="pr" x1="0" y1="0" x2="1" y2="0.3"><stop offset="0" stop-color="#d8e3ec"/><stop offset="0.5" stop-color="#c2d5e6"/><stop offset="1" stop-color="#a3c2dc"/></linearGradient>
<radialGradient id="pc" cx="0.3" cy="0.66" r="0.58"><stop offset="0" stop-color="#2db8ff"/><stop offset="0.28" stop-color="#1288ee"/><stop offset="0.6" stop-color="#0950cc"/><stop offset="1" stop-color="#0633ae"/></radialGradient>
<linearGradient id="pl" x1="0" y1="0" x2="1" y2="0"><stop offset="0" stop-color="#2684f2"/><stop offset="1" stop-color="#0a4bd0"/></linearGradient>
<filter id="pb" x="-5%" y="-5%" width="110%" height="110%"><feGaussianBlur stdDeviation="5"/></filter>
</defs>
<g stroke="#d5dcee" stroke-width="8" fill="none" opacity="0.9"><path d="M330 590 L640 850"/><path d="M620 720 L720 850"/><path d="M740 720 L750 850"/><path d="M960 510 L820 850"/><path d="M1190 580 L900 850"/></g>
<g filter="url(#pb)">
<path d="M300 590 Q250 470 330 350 Q480 275 670 262 L690 510 Q450 520 350 560 Z" fill="url(#pw)"/>
<path d="M940 265 Q1090 275 1150 330 Q1205 410 1212 545 Q1100 510 970 505 Z" fill="url(#pr)"/>
<path d="M210 640 Q195 520 250 410 Q285 365 330 350 Q260 460 300 575 L320 592 Q250 610 210 640 Z" fill="url(#pl)"/>
<path d="M213 640 Q250 605 320 590 Q360 545 480 525 Q700 505 960 500 Q1130 505 1212 548 Q1235 590 1215 615 Q1100 655 960 690 Q800 725 620 720 Q450 722 380 705 Q280 680 213 640 Z" fill="#4a78c4"/>
<path d="M213 640 Q250 605 312 592 Q300 640 318 678 Q260 665 213 640 Z" fill="#0a2cbc"/>
<path d="M620 520 Q800 505 1030 505 Q1045 600 1020 672 Q820 725 630 718 Q605 620 620 520 Z" fill="#0638c2"/>
<path d="M665 258 Q780 218 940 262 Q985 350 968 512 L682 512 Q670 380 665 258 Z" fill="url(#pc)"/>
</g>
<g stroke="#8fa3e0" stroke-width="7" fill="none" opacity="0.6"><path d="M700 512 L740 720"/><path d="M965 505 L870 700"/></g>
</svg>
</div></div></div></body></html>
